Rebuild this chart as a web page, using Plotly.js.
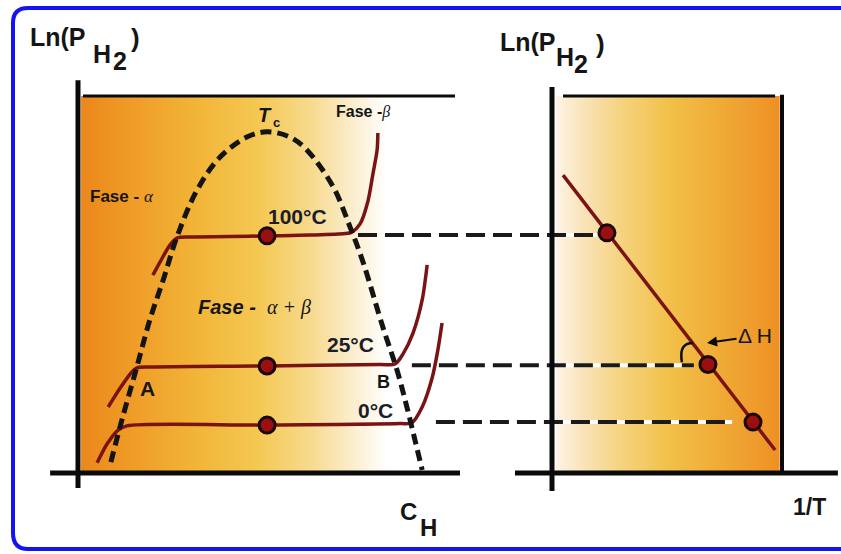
<!DOCTYPE html>
<html>
<head>
<meta charset="utf-8">
<script src="https://cdn.plot.ly/plotly-3.0.1.min.js"></script>
<style>html,body{margin:0;padding:0;background:#fff;}#chart{width:841px;height:554px;}</style>
</head>
<body>
<div id="chart"></div>
<script>
// ---------------- data ----------------
// Left panel: PCT isotherms, x = C_H (arbitrary units 0..10), y = Ln(P_H2) (0..10)
const temps = ['100°C', '25°C', '0°C'];
const iso100_c   = [1.96, 2.15, 2.41, 2.59, 2.93, 3.98, 4.95, 6.07, 6.99, 7.17, 7.38, 7.59, 7.72, 7.83, 7.85];
const iso100_lnP = [5.25, 5.60, 6.05, 6.23, 6.26, 6.27, 6.29, 6.31, 6.35, 6.39, 6.60, 7.21, 7.93, 8.57, 9.02];
const iso25_c    = [0.79, 1.10, 1.41, 1.54, 1.88, 4.95, 7.91, 8.30, 8.51, 8.77, 9.01, 9.14];
const iso25_lnP  = [1.75, 2.25, 2.68, 2.79, 2.81, 2.84, 2.88, 2.89, 3.16, 3.71, 4.59, 5.52];
const iso0_c     = [0.50, 0.76, 1.05, 1.28, 4.95, 8.43, 8.74, 9.01, 9.27, 9.42, 9.53];
const iso0_lnP   = [0.27, 0.77, 1.14, 1.25, 1.27, 1.31, 1.33, 1.75, 2.52, 3.26, 3.98];
// two-phase dome (miscibility gap)
const dome_c   = [0.86, 1.15, 1.54, 1.88, 2.23, 2.59, 3.12, 3.72, 4.42, 4.95, 5.55, 5.99, 6.68, 7.12, 7.46, 7.98, 8.35, 8.61, 8.82, 9.01];
const dome_lnP = [0.29, 1.41, 2.81, 4.06, 5.12, 6.26, 7.51, 8.38, 8.91, 9.05, 8.91, 8.57, 7.59, 6.53, 5.60, 3.87, 2.73, 1.75, 0.88, 0.08];
// plateau mid points
const plateau_c   = [4.95, 4.95, 4.95];
const plateau_lnP = [6.29, 2.84, 1.27];
// Right panel: van't Hoff plot, x = 1/T (0..10), y = Ln(P_H2)
const vh_line_invT = [0.48, 9.70];
const vh_line_lnP  = [7.90, 0.61];
const vh_invT = [2.39, 6.78, 8.74];
const vh_lnP  = [6.37, 2.88, 1.35];
// dashed links plateau -> van't Hoff point
const link_lnP     = [6.31, 2.86, 1.35];
const link_startC  = [7.33, 8.74, 9.37];
const link_endInvT = [1.96, 6.17, 7.83];

// ---------------- geometry of the two panels ----------------
const W = 841, H = 554;
const X0 = 78,  XS = 38.2;   // C_H axis origin / px per unit
const Y0 = 473, YS = 37.7;   // Ln P axis origin / px per unit
const T0 = 552, TS = 23;     // 1/T axis origin / px per unit
const invT2C = t => (T0 + t * TS - X0) / XS;   // 1/T value -> C_H axis units
const P = (x, y) => [x / W, 1 - y / H];         // pixel -> paper

const FONT = 'Liberation Sans, Arial, sans-serif';
const RED = '#7a1414';

const traces = [];
// gradient backgrounds (both on the C_H axis so the links can pass over them)
traces.push({x: [0.08, 8.1, 8.1, 0.08, 0.08], y: [0, 0, 10, 10, 0], xaxis: 'x', yaxis: 'y',
  mode: 'lines', line: {width: 0}, fill: 'toself', hoverinfo: 'skip', showlegend: false,
  fillgradient: {type: 'horizontal', colorscale: [[0, '#EB871B'], [0.15, '#EF9A26'], [0.38, '#F2B538'],
    [0.58, '#F4C853'], [0.75, '#F7DA8E'], [0.88, '#FBEDCB'], [1, '#FFFFFF']]}});
const r0 = invT2C(0.17), r1 = invT2C(9.9);
traces.push({x: [r0, r1, r1, r0, r0], y: [0, 0, 10, 10, 0], xaxis: 'x', yaxis: 'y',
  mode: 'lines', line: {width: 0}, fill: 'toself', hoverinfo: 'skip', showlegend: false,
  fillgradient: {type: 'horizontal', colorscale: [[0, '#FDF4E6'], [0.12, '#F9E3BA'], [0.3, '#F5D27C'],
    [0.5, '#F2C14A'], [0.7, '#F0AE38'], [0.87, '#EF9D2E'], [1, '#EE9024']]}});

// white under-lines for the links in the right panel (gaps look white)
link_lnP.forEach((l, i) => {
  traces.push({x: [invT2C(0.17), invT2C(link_endInvT[i])], y: [l, l], xaxis: 'x', yaxis: 'y',
    mode: 'lines', line: {color: '#ffffff', width: 4}, hoverinfo: 'skip', showlegend: false});
});
// dashed links
link_lnP.forEach((l, i) => {
  traces.push({x: [link_startC[i], invT2C(link_endInvT[i])], y: [l, l], xaxis: 'x', yaxis: 'y',
    mode: 'lines', line: {color: '#1a1a1a', width: 4, dash: '19px,8px'}, hoverinfo: 'skip', showlegend: false});
});

// isotherms
[[iso100_c, iso100_lnP], [iso25_c, iso25_lnP], [iso0_c, iso0_lnP]].forEach((s, i) => {
  traces.push({x: s[0], y: s[1], xaxis: 'x', yaxis: 'y', name: temps[i], mode: 'lines',
    line: {color: RED, width: 3.5, shape: 'spline', smoothing: 0.8}, showlegend: false});
});
// dome
traces.push({x: dome_c, y: dome_lnP, xaxis: 'x', yaxis: 'y', mode: 'lines', name: 'Tc',
  line: {color: '#141414', width: 5, dash: '11px,6px', shape: 'spline', smoothing: 1}, showlegend: false});
// plateau points
traces.push({x: plateau_c, y: plateau_lnP, xaxis: 'x', yaxis: 'y', mode: 'markers',
  marker: {size: 16, color: '#9a1010', line: {color: '#1a0808', width: 3}}, showlegend: false});
// van't Hoff line and points
traces.push({x: vh_line_invT, y: vh_line_lnP, xaxis: 'x2', yaxis: 'y', mode: 'lines',
  line: {color: RED, width: 3.5}, showlegend: false});
traces.push({x: vh_invT, y: vh_lnP, xaxis: 'x2', yaxis: 'y', mode: 'markers',
  marker: {size: 16, color: '#9a1010', line: {color: '#1a0808', width: 3}}, showlegend: false});

// ---------------- shapes ----------------
const shapes = [];
const ln = (xref, x0, y0, x1, y1, w) => shapes.push({type: 'line', xref: xref, yref: 'y', x0, y0, x1, y1,
  line: {color: '#0a0a0a', width: w}, layer: 'above'});
// left panel frame
ln('x', 0, 10.42, 0, -0.40, 5);
ln('x', -0.73, 0, 10.0, 0, 5);
ln('x', 0.13, 10.0, 9.87, 10.0, 3);
// right panel frame
ln('x2', 0, 10.24, 0, -0.48, 5);
ln('x2', -1.61, 0, 12.43, 0, 5);
ln('x2', 0.48, 10.0, 9.70, 10.0, 3);
ln('x2', 10.0, 10.03, 10.0, 0, 4);
// angle arc (ΔH)
shapes.push({type: 'path', xref: 'x2', yref: 'y', layer: 'above',
  path: 'M 5.65,2.94 Q 5.50,3.45 6.13,3.45', line: {color: '#0a0a0a', width: 2.5}});
// blue rounded border
const b = (x, y) => P(x, y).join(',');
shapes.push({type: 'path', xref: 'paper', yref: 'paper', layer: 'above',
  path: 'M ' + b(850, 8) + ' L ' + b(28, 8) + ' Q ' + b(13, 8) + ' ' + b(13, 23) + ' L ' + b(13, 533) +
        ' Q ' + b(13, 549) + ' ' + b(28, 549) + ' L ' + b(850, 549),
  line: {color: '#1414f2', width: 4}});

// ---------------- annotations ----------------
const ann = [];
const txt = (text, x, y, size, opts) => {
  const p = P(x, y);
  ann.push(Object.assign({text: text, x: p[0], y: p[1], xref: 'paper', yref: 'paper', showarrow: false,
    xanchor: 'center', yanchor: 'middle', font: {family: FONT, size: size, color: '#151515'}}, opts || {}));
};
const G = s => '<span style="font-family:\'Liberation Serif\'"><i>' + s + '</i></span>';
// axis titles
txt('<b>Ln(P</b>', 58, 37, 25);
txt('<b>H</b>', 102, 54, 25);
txt('<b>2</b>', 120, 61, 25);
txt('<b>)</b>', 135, 38, 26);
txt('<b>Ln(P</b>', 528, 42, 25);
txt('<b>H</b>', 565, 57, 25);
txt('<b>2</b>', 581, 64, 25);
txt('<b>)</b>', 600, 44, 26);
txt('<b>C</b>', 408, 511, 24);
txt('<b>H</b>', 428, 527, 24);
txt('<b>1/T</b>', 809, 507, 23);
// phase labels
txt('<b>Fase -</b> ' + G('α'), 88, 197, 17, {xanchor: 'left'});
txt('<b>Fase -</b>' + G('β'), 334, 112, 16, {xanchor: 'left'});
txt('<b><i>Fase -</i></b>  ' + G('α + β'), 196, 307, 20, {xanchor: 'left'});
txt('<b><i>T</i></b>', 265, 115, 20);
txt('<b>c</b>', 276, 122, 13);
// temperatures and points
const tempPos = [[297, 216], [350, 344], [375, 410]];
temps.forEach((t, i) => txt('<b>' + t + '</b>', tempPos[i][0], tempPos[i][1], 21, {font: {family: FONT, size: 21, color: '#1c1d2a'}}));
txt('<b>A</b>', 147, 388, 21);
txt('<b>B</b>', 383, 382, 18);
// ΔH with arrow
ann.push({text: 'Δ H', xref: 'x2', yref: 'y', x: 6.74, y: 3.45, ax: 48, ay: -7, showarrow: true,
  arrowhead: 2, arrowsize: 1, arrowwidth: 2, arrowcolor: '#0a0a0a', standoff: 0,
  font: {family: FONT, size: 21, color: '#151515'}});

const layout = {
  width: W, height: H, margin: {l: 0, r: 0, t: 0, b: 0},
  paper_bgcolor: '#ffffff', plot_bgcolor: 'rgba(0,0,0,0)', showlegend: false,
  xaxis: {domain: [0, 1], range: [-X0 / XS, (W - X0) / XS], visible: false, fixedrange: true},
  xaxis2: {domain: [0, 1], range: [-T0 / TS, (W - T0) / TS], visible: false, overlaying: 'x', anchor: 'y', fixedrange: true},
  yaxis: {domain: [0, 1], range: [(Y0 - H) / YS, Y0 / YS], visible: false, fixedrange: true},
  shapes: shapes, annotations: ann
};
Plotly.newPlot('chart', traces, layout, {staticPlot: true});
</script>
</body>
</html>
